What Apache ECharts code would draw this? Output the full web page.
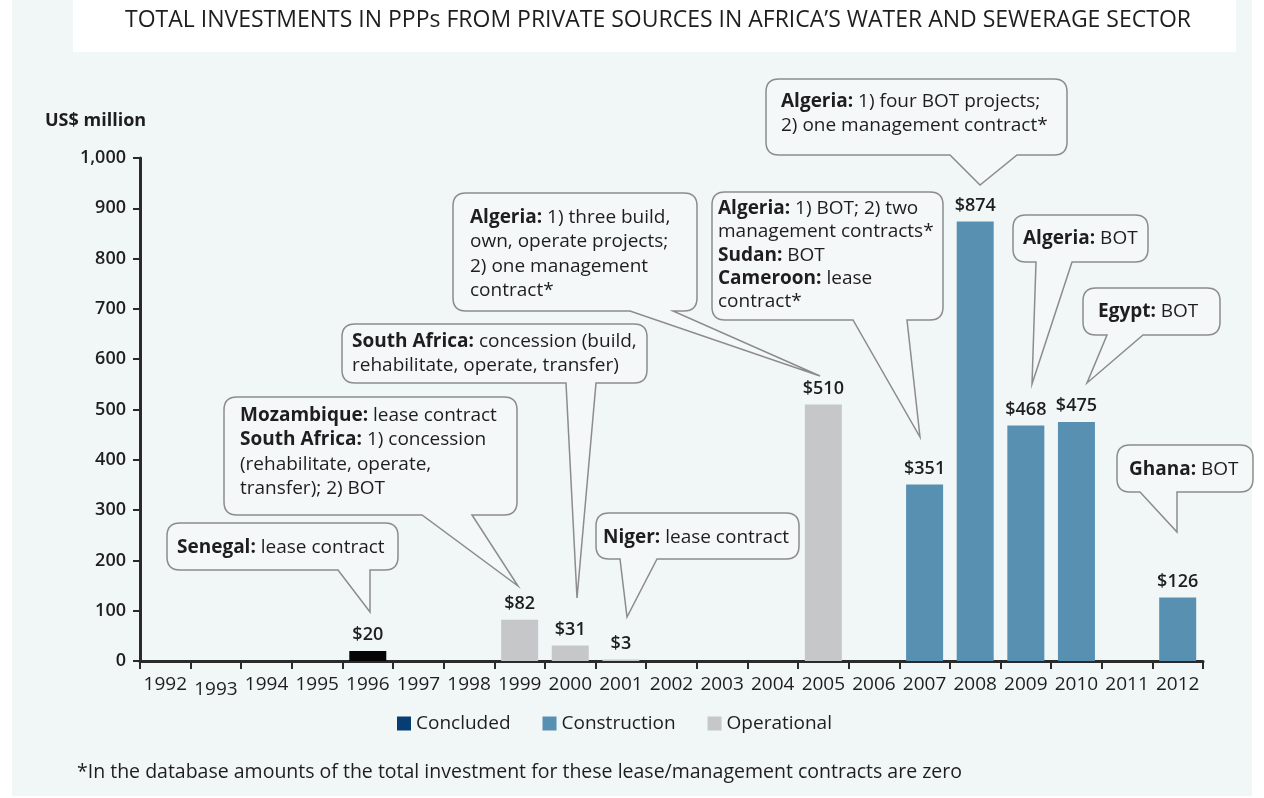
<!DOCTYPE html>
<html>
<head>
<meta charset="utf-8">
<script src="https://cdn.jsdelivr.net/npm/echarts@6/dist/echarts.min.js"></script>
<style>
  html, body { margin: 0; padding: 0; background: #fff; }
  #chartBox { width: 1264px; height: 798px; }
</style>
</head>
<body>
<div id="chartBox"></div>
<script>
var years = ['1992', '1993', '1994', '1995', '1996', '1997', '1998', '1999', '2000', '2001', '2002',
  '2003', '2004', '2005', '2006', '2007', '2008', '2009', '2010', '2011', '2012'];
// '-' = no project that year
var concluded = ['-', '-', '-', '-', 20, '-', '-', '-', '-', '-', '-', '-', '-', '-', '-', '-', '-', '-', '-', '-', '-'];
var construction = ['-', '-', '-', '-', '-', '-', '-', '-', '-', '-', '-', '-', '-', '-', '-', 351, 874, 468, 475, '-', 126];
var operational = ['-', '-', '-', '-', '-', '-', '-', 82, 31, 3, '-', '-', '-', 510, '-', '-', '-', '-', '-', '-', '-'];

var FONT = '"Open Sans", "Noto Sans", sans-serif';
var TXT = '#1e1e1e';

// speech bubble shape: rounded box with a tail on the bottom edge
var Bubble = echarts.graphic.extendShape({
	shape: { x: 0, y: 0, w: 10, h: 10, b1: 0, b2: 0, tx: 0, ty: 0 },
	buildPath: function(ctx, s) {
		var r = 13, x = s.x, y = s.y, w = s.w, h = s.h;
		ctx.moveTo(x + r, y);
		ctx.lineTo(x + w - r, y);
		ctx.quadraticCurveTo(x + w, y, x + w, y + r);
		ctx.lineTo(x + w, y + h - r);
		ctx.quadraticCurveTo(x + w, y + h, x + w - r, y + h);
		ctx.lineTo(s.b2, y + h);
		ctx.lineTo(s.tx, s.ty);
		ctx.lineTo(s.b1, y + h);
		ctx.lineTo(x + r, y + h);
		ctx.quadraticCurveTo(x, y + h, x, y + h - r);
		ctx.lineTo(x, y + r);
		ctx.quadraticCurveTo(x, y, x + r, y);
		ctx.closePath();
	}
});
echarts.graphic.registerShape('bubble', Bubble);

var bubbles = [
	{ box: [167, 523, 231, 47], tail: [338, 370, 370, 612], tx: 177, ty: 535,
	  text: '{b|Senegal:} lease contract' },
	{ box: [224, 397, 293, 118], tail: [422, 472, 518, 586], tx: 240, ty: 403,
	  text: '{b|Mozambique:} lease contract\n{b|South Africa:} 1) concession\n(rehabilitate, operate,\ntransfer); 2) BOT' },
	{ box: [342, 324, 305, 59], tail: [566, 596, 577, 598], tx: 352, ty: 329,
	  text: '{b|South Africa:} concession (build,\nrehabilitate, operate, transfer)' },
	{ box: [453, 193, 244, 118], tail: [630, 673, 820, 376], tx: 470, ty: 205,
	  text: '{b|Algeria:} 1) three build,\nown, operate projects;\n2) one management\ncontract*' },
	{ box: [596, 513, 203, 46], tail: [620, 657, 627, 617], tx: 603, ty: 525,
	  text: '{b|Niger:} lease contract' },
	{ box: [712, 192, 231, 128], tail: [853, 907, 920, 437], tx: 718, ty: 197, lh: 23.3,
	  text: '{b|Algeria:} 1) BOT; 2) two\nmanagement contracts*\n{b|Sudan:} BOT\n{b|Cameroon:} lease\ncontract*' },
	{ box: [766, 79, 301, 76], tail: [950, 1017, 980, 185], tx: 781, ty: 89,
	  text: '{b|Algeria:} 1) four BOT projects;\n2) one management contract*' },
	{ box: [1013, 215, 135, 47], tail: [1036, 1072, 1032, 384], tx: 1023, ty: 226,
	  text: '{b|Algeria:} BOT' },
	{ box: [1083, 288, 137, 47], tail: [1107, 1143, 1087, 383], tx: 1098, ty: 299,
	  text: '{b|Egypt:} BOT' },
	{ box: [1117, 445, 136, 47], tail: [1140, 1177, 1177, 532], tx: 1129, ty: 457,
	  text: '{b|Ghana:} BOT' }
];

var graphics = [
	{ type: 'rect', z: -10, silent: true, shape: { x: 12, y: 0, width: 1240, height: 796 }, style: { fill: '#f1f6f7' } },
	{ type: 'rect', z: -9, silent: true, shape: { x: 73, y: 0, width: 1163, height: 52 }, style: { fill: '#ffffff' } },
	{ type: 'text', x: 658, y: 20, style: { text: 'TOTAL INVESTMENTS IN PPPs FROM PRIVATE SOURCES IN AFRICA\u2019S WATER AND SEWERAGE SECTOR',
		fill: TXT, font: '23px ' + FONT, align: 'center', verticalAlign: 'middle' } },
	{ type: 'text', x: 45, y: 121, style: { text: 'US$ million', fill: TXT, font: 'bold 18px ' + FONT, verticalAlign: 'middle' } },
	{ type: 'text', x: 77, y: 772, style: { text: '*In the database amounts of the total investment for these lease/management contracts are zero',
		fill: TXT, font: '19.5px ' + FONT, verticalAlign: 'middle' } }
];

bubbles.forEach(function(b) {
	var lh = b.lh || 24.5;
	graphics.push({
		type: 'bubble', z: 10, silent: true,
		shape: { x: b.box[0], y: b.box[1], w: b.box[2], h: b.box[3], b1: b.tail[0], b2: b.tail[1], tx: b.tail[2], ty: b.tail[3] },
		style: { fill: '#f4f8f9', stroke: '#8c8c8c', lineWidth: 1.5 }
	});
	graphics.push({
		type: 'text', z: 11, silent: true, x: b.tx, y: b.ty,
		style: {
			text: b.text, fill: TXT, font: '19px ' + FONT, lineHeight: lh,
			rich: { b: { fontWeight: 'bold', fontSize: 19, fontFamily: FONT, lineHeight: lh, fill: TXT } }
		}
	});
});

var myChart = echarts.init(document.getElementById('chartBox'));

var barLabel = {
	show: true,
	position: 'top',
	distance: 7,
	formatter: '${c}',
	color: TXT,
	fontSize: 18,
	fontWeight: 600,
	fontFamily: FONT
};

var option = {
	backgroundColor: '#ffffff',
	animation: false,
	graphic: graphics,
	grid: { left: 140, right: 61, top: 158, bottom: 137 },
	legend: {
		left: 392,
		top: 709,
		icon: 'rect',
		itemWidth: 14,
		itemHeight: 14,
		itemGap: 32,
		textStyle: { color: TXT, fontSize: 19, fontFamily: FONT },
		data: [
			{ name: 'Concluded', itemStyle: { color: '#063e73' } },
			{ name: 'Construction' },
			{ name: 'Operational' }
		]
	},
	xAxis: {
		type: 'category',
		data: years,
		boundaryGap: true,
		axisLine: { lineStyle: { color: '#2a2a2a', width: 3 } },
		axisTick: { show: true, length: 8, lineStyle: { color: '#2a2a2a', width: 2 } },
		axisLabel: {
			color: TXT, fontSize: 19, fontFamily: FONT, margin: 14, interval: 0,
			formatter: function(v) { return v === '1993' ? '{low|' + v + '}' : v; },
			rich: { low: { fontSize: 19, fontFamily: FONT, color: TXT, padding: [5, 0, 0, 0] } }
		}
	},
	yAxis: {
		type: 'value',
		min: 0,
		max: 1000,
		interval: 100,
		splitLine: { show: false },
		axisLine: { show: true, lineStyle: { color: '#2a2a2a', width: 3 } },
		axisTick: { show: true, length: 7, lineStyle: { color: '#2a2a2a', width: 2 } },
		axisLabel: {
			color: TXT, fontSize: 18, fontWeight: 600, fontFamily: FONT, margin: 14,
			formatter: function(v) { return v.toLocaleString('en-US'); }
		}
	},
	series: [
		{ name: 'Concluded', type: 'bar', stack: 'all', barWidth: 37, data: concluded,
		  itemStyle: { color: '#050505' }, label: barLabel },
		{ name: 'Construction', type: 'bar', stack: 'all', barWidth: 37, data: construction,
		  itemStyle: { color: '#5890b1' }, label: barLabel },
		{ name: 'Operational', type: 'bar', stack: 'all', barWidth: 37, data: operational,
		  itemStyle: { color: '#c6c7c9' }, label: barLabel }
	]
};
myChart.setOption(option);
</script>
</body>
</html>
